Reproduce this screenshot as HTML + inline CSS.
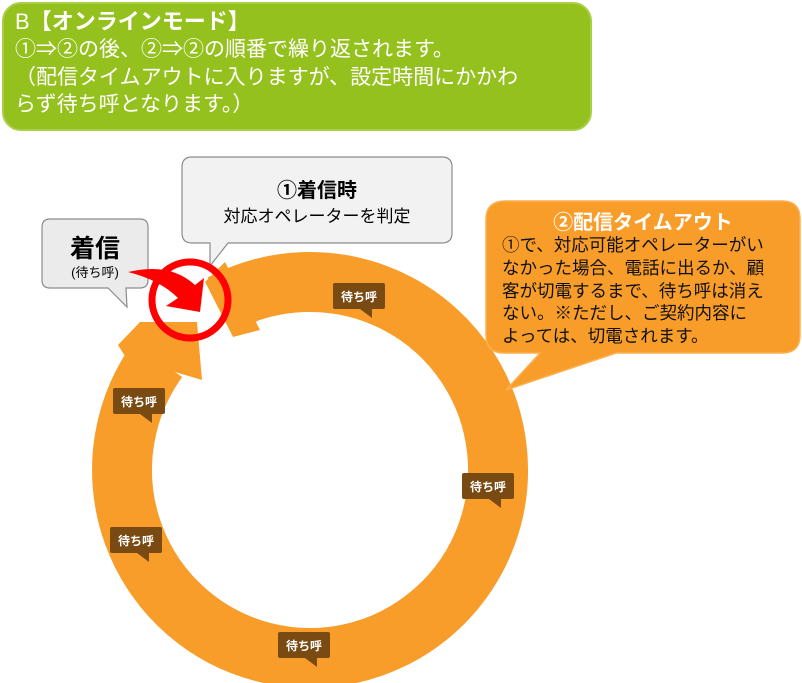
<!DOCTYPE html>
<html><head><meta charset="utf-8"><style>
body{margin:0;width:802px;height:683px;background:#fff;position:relative;overflow:hidden;font-family:"Liberation Sans","Noto Sans CJK JP",sans-serif}
.t{position:absolute;white-space:nowrap}
</style></head><body>
<svg width="802" height="683" style="position:absolute;left:0;top:0">
<rect x="3" y="3" width="588" height="127" rx="18" fill="#95c11f" stroke="#a9cf45" stroke-width="2"/>
<path d="M221.7,304 A188,188 0 1 1 157.9,359.5" fill="none" stroke="#f99d2a" stroke-width="60"/>
<polygon points="205,282 233,337 260,330 225,262" fill="#f99d2a"/>
<polygon points="195,270 205,282 233,337 215,345 180,290" fill="#fff"/>
<polygon points="118,345 140,322 197,322 202,380 175,372 140,380" fill="#f99d2a"/>
<path d="M192,157 H442 Q452,157 452,167 V233 Q452,243 442,243 H228 L210,266 L210,243 H192 Q182,243 182,233 V167 Q182,157 192,157Z" fill="#f2f2f2" stroke="#8c8c8c" stroke-width="1.2"/>
<path d="M50,219 H140 Q148,219 148,227 V280 Q148,288 140,288 H126 L127,307 L108,288 H50 Q42,288 42,280 V227 Q42,219 50,219Z" fill="#ebebeb" stroke="#8c8c8c" stroke-width="1.2"/>
<path d="M506,201 H782 Q800,201 800,219 V335 Q800,353 782,353 H616 L506,390 L540,353 H504 Q486,353 486,335 V219 Q486,201 506,201Z" fill="#f99d2a" stroke="#fbb04f" stroke-width="1.5"/>
<circle cx="190" cy="300" r="38" fill="none" stroke="#ff0000" stroke-width="7"/>
<path d="M128,272 Q170,262 195,285 L204,278 L200,312 L166,306 L178,298 Q160,280 128,272Z" fill="#ff0000"/>
<g fill="#7a4a13">
<rect x="333" y="283" width="52" height="26" rx="2"/><polygon points="360,309 372,309 372,318"/>
<rect x="113" y="388" width="52" height="26" rx="2"/><polygon points="140,414 152,414 152,423"/>
<rect x="462" y="473" width="52" height="26" rx="2"/><polygon points="489,499 501,499 501,508"/>
<rect x="110" y="527" width="52" height="26" rx="2"/><polygon points="137,553 149,553 149,562"/>
<rect x="278" y="632" width="52" height="26" rx="2"/><polygon points="305,658 317,658 317,667"/>
</g>
</svg>
<div class="t" style="left:15px;top:8px;font-size:22px;color:#fff;line-height:28px">B<b>【オンラインモード】</b></div>
<div class="t" style="left:15px;top:36px;font-size:21px;color:#fff;line-height:27.5px">①⇒②の後、②⇒②の順番で繰り返されます。<br>（配信タイムアウトに入りますが、設定時間にかかわ<br>らず待ち呼となります。）</div>
<div class="t" style="left:182px;width:270px;text-align:center;top:174px;font-size:20px;font-weight:bold">①着信時</div>
<div class="t" style="left:182px;width:270px;text-align:center;top:202px;font-size:17px">対応オペレーターを判定</div>
<div class="t" style="left:42px;width:106px;text-align:center;top:229px;font-size:25px;font-weight:bold">着信</div>
<div class="t" style="left:42px;width:106px;text-align:center;top:262px;font-size:13px">(待ち呼)</div>
<div class="t" style="left:486px;width:314px;text-align:center;top:206px;font-size:20px;font-weight:bold;color:#fff">②配信タイムアウト</div>
<div class="t" style="left:502px;top:234px;font-size:17.5px;line-height:22.8px;color:#111">①で、対応可能オペレーターがい<br>なかった場合、電話に出るか、顧<br>客が切電するまで、待ち呼は消え<br>ない。※ただし、ご契約内容に<br>よっては、切電されます。</div>
<div class="t" style="left:333px;top:288px;width:52px;text-align:center;font-size:12px;font-weight:bold;color:#fff">待ち呼</div>
<div class="t" style="left:113px;top:393px;width:52px;text-align:center;font-size:12px;font-weight:bold;color:#fff">待ち呼</div>
<div class="t" style="left:462px;top:478px;width:52px;text-align:center;font-size:12px;font-weight:bold;color:#fff">待ち呼</div>
<div class="t" style="left:110px;top:532px;width:52px;text-align:center;font-size:12px;font-weight:bold;color:#fff">待ち呼</div>
<div class="t" style="left:278px;top:637px;width:52px;text-align:center;font-size:12px;font-weight:bold;color:#fff">待ち呼</div>
</body></html>
